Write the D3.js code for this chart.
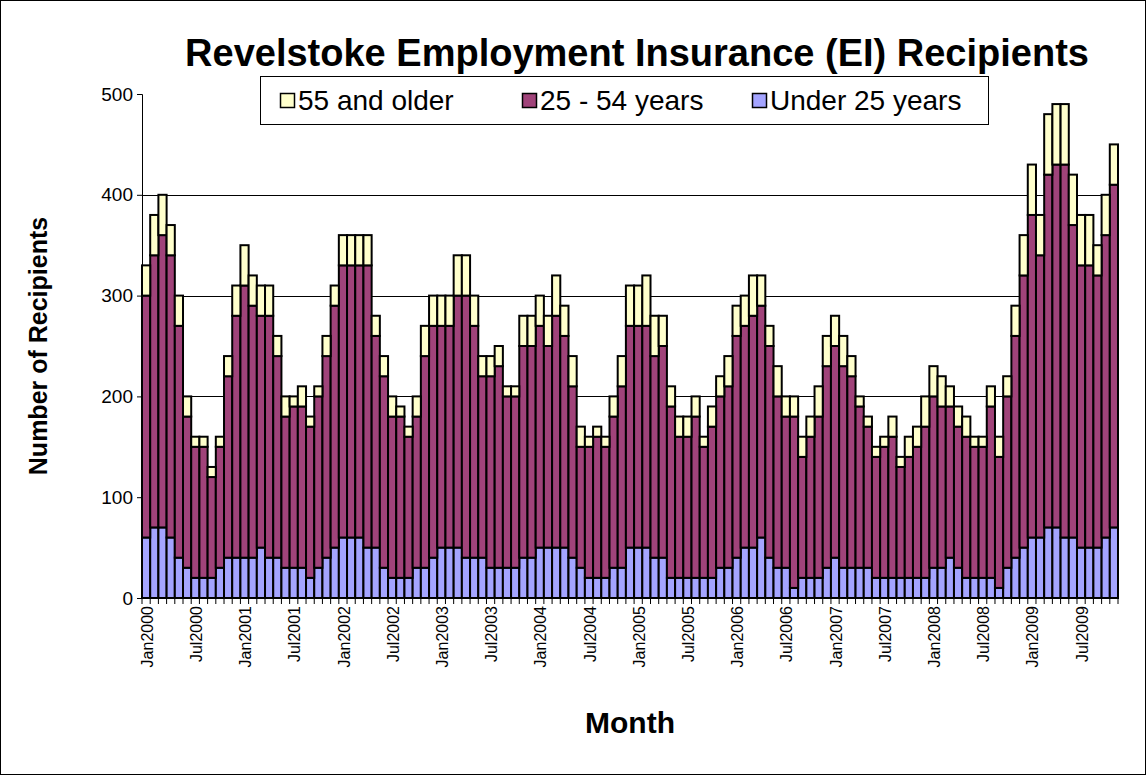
<!DOCTYPE html>
<html>
<head>
<meta charset="utf-8">
<script src="https://cdn.jsdelivr.net/npm/d3@7"></script>
<style>
  body { margin: 0; background: #fff; }
  svg { display: block; }
  text { font-family: "Liberation Sans", Arial, sans-serif; fill: #000; }
</style>
</head>
<body>
<div id="chart"></div>
<script>
// month labels are built from these two lists
var monthNames = ["Jan", "Feb", "Mar", "Apr", "May", "Jun", "Jul", "Aug", "Sep", "Oct", "Nov", "Dec"];
var years = [2000, 2001, 2002, 2003, 2004, 2005, 2006, 2007, 2008, 2009];

// recipients by age group, Jan 2000 - Nov 2009
var under25 = [
  60, 70, 70, 60, 40, 30, 20, 20, 20, 30, 40, 40,
  40, 40, 50, 40, 40, 30, 30, 30, 20, 30, 40, 50,
  60, 60, 60, 50, 50, 30, 20, 20, 20, 30, 30, 40,
  50, 50, 50, 40, 40, 40, 30, 30, 30, 30, 40, 40,
  50, 50, 50, 50, 40, 30, 20, 20, 20, 30, 30, 50,
  50, 50, 40, 40, 20, 20, 20, 20, 20, 20, 30, 30,
  40, 50, 50, 60, 40, 30, 30, 10, 20, 20, 20, 30,
  40, 30, 30, 30, 30, 20, 20, 20, 20, 20, 20, 20,
  30, 30, 40, 30, 20, 20, 20, 20, 10, 30, 40, 50,
  60, 60, 70, 70, 60, 60, 50, 50, 50, 60, 70
];
var age25to54 = [
  240, 270, 290, 280, 230, 150, 130, 130, 100, 120, 180, 240,
  270, 250, 230, 240, 200, 150, 160, 160, 150, 170, 200, 240,
  270, 270, 270, 280, 210, 190, 160, 160, 140, 150, 210, 230,
  220, 220, 250, 260, 230, 180, 190, 200, 170, 170, 210, 210,
  220, 200, 230, 210, 170, 120, 130, 140, 130, 150, 180, 220,
  220, 220, 200, 210, 170, 140, 140, 160, 130, 150, 170, 180,
  220, 220, 230, 230, 210, 170, 150, 170, 120, 140, 160, 200,
  210, 200, 190, 160, 140, 120, 130, 140, 110, 120, 130, 150,
  170, 160, 150, 140, 140, 130, 130, 170, 130, 170, 220, 270,
  320, 280, 350, 360, 370, 310, 280, 280, 270, 300, 340
];
var age55plus = [
  30, 40, 40, 30, 30, 20, 10, 10, 10, 10, 20, 30,
  40, 30, 30, 30, 20, 20, 10, 20, 10, 10, 20, 20,
  30, 30, 30, 30, 20, 20, 20, 10, 10, 20, 30, 30,
  30, 30, 40, 40, 30, 20, 20, 20, 10, 10, 30, 30,
  30, 30, 40, 30, 30, 20, 10, 10, 10, 20, 30, 40,
  40, 50, 40, 30, 20, 20, 20, 20, 10, 20, 20, 30,
  30, 30, 40, 30, 20, 30, 20, 20, 20, 20, 30, 30,
  30, 30, 20, 10, 10, 10, 10, 20, 10, 20, 20, 30,
  30, 30, 20, 20, 20, 10, 10, 20, 20, 20, 30, 40,
  50, 40, 60, 60, 60, 50, 50, 50, 30, 40, 40
];

var yTicks = [0, 100, 200, 300, 400, 500];
var gridValues = [100, 200, 300, 400];
var seriesKeys = ["under25", "age25to54", "age55plus"];
var legendOrder = ["age55plus", "age25to54", "under25"];
var seriesNames = { under25: "Under 25 years", age25to54: "25 - 54 years", age55plus: "55 and older" };
var seriesColors = { under25: "#a4a4ff", age25to54: "#a0437a", age55plus: "#ffffcc" };

var W = 1147, H = 776;
var plot = { left: 142, right: 1118, top: 94, bottom: 598 };

var months = [];
years.forEach(function (yr) {
  monthNames.forEach(function (m) { months.push(m + yr); });
});
months = months.slice(0, under25.length);

var rows = months.map(function (m, i) {
  return { month: m, under25: under25[i], age25to54: age25to54[i], age55plus: age55plus[i] };
});

var svg = d3.select("#chart").append("svg")
  .attr("width", W)
  .attr("height", H);

svg.append("rect")
  .attr("x", 0.5).attr("y", 0.5)
  .attr("width", W - 2).attr("height", H - 2)
  .attr("fill", "#fff")
  .attr("stroke", "#000");

var x = d3.scaleBand().domain(months).range([plot.left, plot.right]).padding(0);
var y = d3.scaleLinear().domain([0, 500]).range([plot.bottom, plot.top]);

// gridlines
svg.append("g")
  .selectAll("line")
  .data(gridValues)
  .join("line")
  .attr("x1", plot.left).attr("x2", plot.right)
  .attr("y1", function (d) { return Math.round(y(d)) + 0.5; })
  .attr("y2", function (d) { return Math.round(y(d)) + 0.5; })
  .attr("stroke", "#000")
  .attr("stroke-width", 1);

// stacked bars
var stacked = d3.stack().keys(seriesKeys)(rows);

svg.append("g")
  .selectAll("g")
  .data(stacked)
  .join("g")
  .attr("fill", function (s) { return seriesColors[s.key]; })
  .selectAll("rect")
  .data(function (s) { return s; })
  .join("rect")
  .attr("x", function (d) { return x(d.data.month); })
  .attr("width", x.bandwidth())
  .attr("y", function (d) { return y(d[1]); })
  .attr("height", function (d) { return y(d[0]) - y(d[1]); })
  .attr("stroke", "#000")
  .attr("stroke-width", 2);

// y axis
var gY = svg.append("g")
  .attr("transform", "translate(" + plot.left + ",0)")
  .call(d3.axisLeft(y).tickValues(yTicks).tickSize(5).tickPadding(4).tickFormat(d3.format("d")));
gY.select(".domain").attr("stroke", "#000").attr("stroke-width", 1);
gY.selectAll(".tick line").attr("stroke", "#000");
gY.selectAll(".tick text")
  .attr("font-size", 19)
  .attr("font-family", "Liberation Sans, Arial, sans-serif");

// x axis: ticks between months, labels on Jan and Jul
var gX = svg.append("g");
gX.append("line")
  .attr("x1", plot.left).attr("x2", plot.right)
  .attr("y1", plot.bottom + 0.5).attr("y2", plot.bottom + 0.5)
  .attr("stroke", "#000");
gX.selectAll("line.tk")
  .data(months.concat(["end"]))
  .join("line")
  .attr("class", "tk")
  .attr("x1", function (d) { return d === "end" ? plot.right : x(d); })
  .attr("x2", function (d) { return d === "end" ? plot.right : x(d); })
  .attr("y1", plot.bottom)
  .attr("y2", plot.bottom + 6)
  .attr("stroke", "#000");
gX.selectAll("text")
  .data(months.filter(function (m) { return m.indexOf("Jan") === 0 || m.indexOf("Jul") === 0; }))
  .join("text")
  .attr("transform", function (d) {
    return "translate(" + (x(d) + x.bandwidth() / 2 + 1) + "," + (plot.bottom + 8) + ") rotate(-90)";
  })
  .attr("text-anchor", "end")
  .attr("dy", "0.35em")
  .attr("font-size", 16)
  .text(function (d) { return d; });

// titles
svg.append("text")
  .attr("x", 637).attr("y", 66)
  .attr("text-anchor", "middle")
  .attr("font-size", 38)
  .attr("font-weight", "bold")
  .text("Revelstoke Employment Insurance (EI) Recipients");

svg.append("text")
  .attr("transform", "translate(47,346) rotate(-90)")
  .attr("text-anchor", "middle")
  .attr("font-size", 25)
  .attr("font-weight", "bold")
  .text("Number of Recipients");

svg.append("text")
  .attr("x", 630).attr("y", 733)
  .attr("text-anchor", "middle")
  .attr("font-size", 30)
  .attr("font-weight", "bold")
  .text("Month");

// legend
var legend = svg.append("g").attr("transform", "translate(260,76)");
legend.append("rect")
  .attr("x", 0.5).attr("y", 0.5)
  .attr("width", 728).attr("height", 48)
  .attr("fill", "#fff")
  .attr("stroke", "#000");
var legendX = [20, 262, 492];
var item = legend.selectAll("g.item")
  .data(legendOrder)
  .join("g")
  .attr("class", "item")
  .attr("transform", function (d, i) { return "translate(" + legendX[i] + ",0)"; });
item.append("rect")
  .attr("x", 0.5).attr("y", 17.5)
  .attr("width", 14).attr("height", 14)
  .attr("fill", function (d) { return seriesColors[d]; })
  .attr("stroke", "#000")
  .attr("stroke-width", 1.5);
item.append("text")
  .attr("x", 18).attr("y", 34)
  .attr("font-size", 28)
  .text(function (d) { return seriesNames[d]; });
</script>
</body>
</html>
